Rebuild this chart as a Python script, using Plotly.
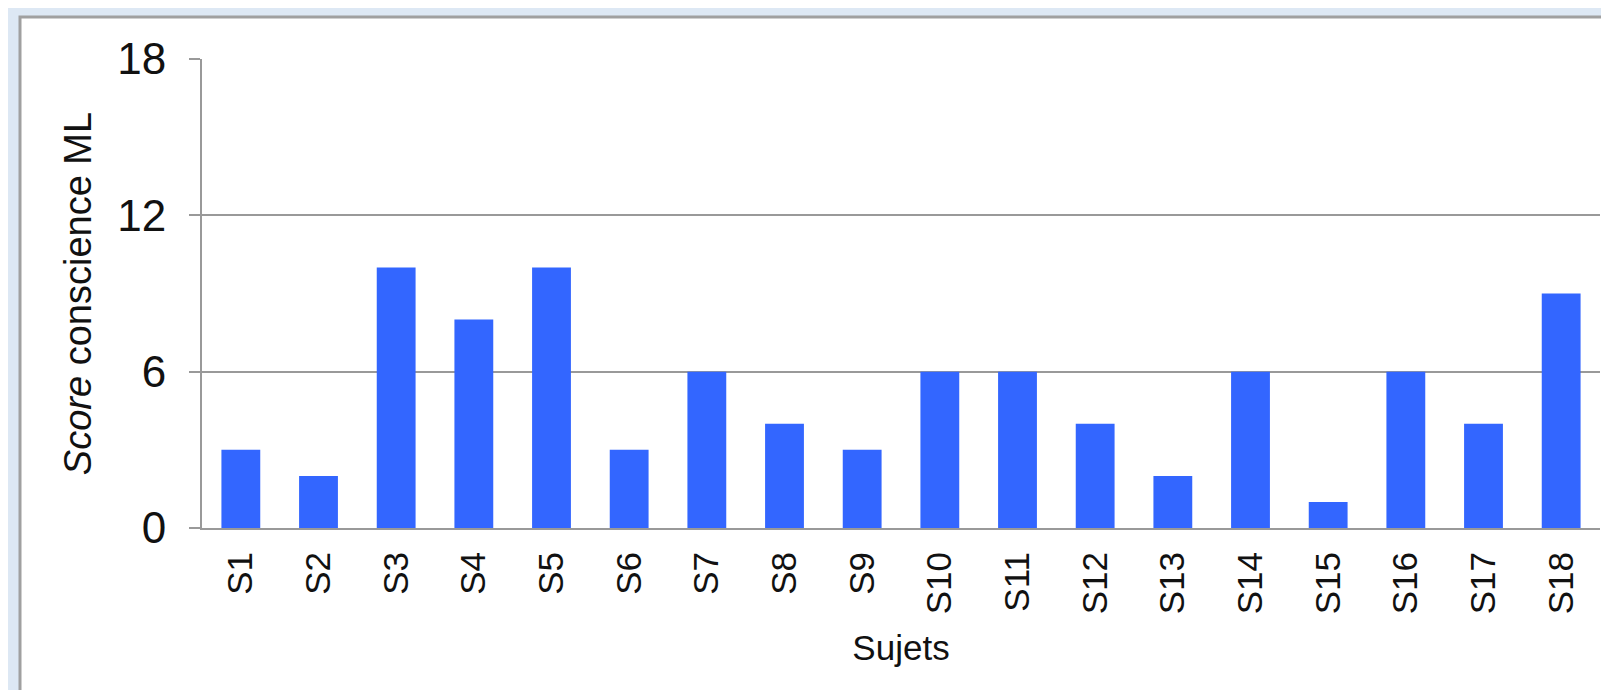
import plotly.graph_objects as go

subjects = ["S1", "S2", "S3", "S4", "S5", "S6", "S7", "S8", "S9", "S10",
            "S11", "S12", "S13", "S14", "S15", "S16", "S17", "S18"]
scores = [3, 2, 10, 8, 10, 3, 6, 4, 3, 6, 6, 4, 2, 6, 1, 6, 4, 9]
y_ticks = [0, 6, 12, 18]

W, H = 1609, 690
L, R, T, B = 194, 17, 51, 170
pw, ph = W - L - R, H - T - B

def px_x(px):
    return (px - L) / pw

def px_y(py):
    return (H - B - py) / ph

FONT = "Liberation Sans"

fig = go.Figure()
fig.add_trace(go.Bar(x=subjects, y=scores, marker=dict(color="#3366ff", line=dict(width=0))))

fig.update_layout(
    width=W, height=H,
    margin=dict(l=L, r=R, t=T, b=B),
    paper_bgcolor="#dde8f4",
    plot_bgcolor="rgba(0,0,0,0)",
    bargap=0.5,
    showlegend=False,
    font=dict(family=FONT, color="#111111"),
    shapes=[dict(type="rect", xref="paper", yref="paper",
                 x0=px_x(12), x1=px_x(1640), y0=px_y(720), y1=px_y(9),
                 fillcolor="white", line=dict(color="#a0a0a0", width=3),
                 layer="below")],
)
fig.update_xaxes(
    tickangle=-90, tickfont=dict(size=35, family=FONT),
    showline=True, linecolor="#999999", linewidth=2,
    ticks="", showgrid=False, ticklabelstandoff=8,
    title=dict(text="Sujets", font=dict(size=35, family=FONT), standoff=22),
)
fig.update_yaxes(
    range=[0, 18], tickvals=y_ticks, tickfont=dict(size=44, family=FONT),
    showline=True, linecolor="#999999", linewidth=2,
    ticks="outside", ticklen=11, tickcolor="#999999", tickwidth=2,
    showgrid=True, gridcolor="#999999", gridwidth=2,
    zeroline=False, ticklabelstandoff=14,
    title=dict(text="<i>Score</i> conscience ML", font=dict(size=38, family=FONT), standoff=14),
)
fig.write_html("out.html")
